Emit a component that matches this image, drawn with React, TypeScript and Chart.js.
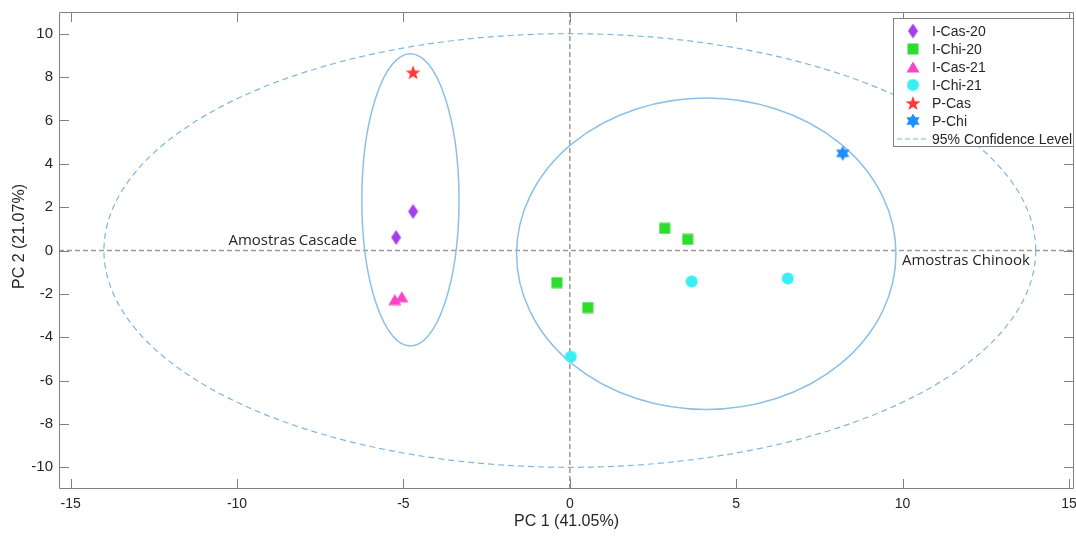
import React, { useEffect, useRef } from "react";
import { Chart, registerables } from "chart.js";

Chart.register(...registerables);

// ---- axes ----
const xTicks = [-15, -10, -5, 0, 5, 10, 15];
const yTicks = [-10, -8, -6, -4, -2, 0, 2, 4, 6, 8, 10];
const xRange = [-15.35, 15.15];
const yRange = [-11, 11];
const xTitle = "PC 1 (41.05%)";
const yTitle = "PC 2 (21.07%)";

// ---- series (PC1, PC2) ----
const iCas20 = [[-4.71, 1.8], [-5.22, 0.6]];
const iChi20 = [[2.85, 1.02], [3.54, 0.51], [-0.39, -1.48], [0.54, -2.63]];
const iCas21 = [[-5.26, -2.26], [-5.05, -2.13]];
const iChi21 = [[3.66, -1.43], [6.55, -1.29], [0.03, -4.9]];
const pCas = [[-4.71, 8.22]];
const pChi = [[8.2, 4.48]];

const seriesNames = ["I-Cas-20", "I-Chi-20", "I-Cas-21", "I-Chi-21", "P-Cas", "P-Chi"];
const seriesColors = ["#A23EEA", "#2EDC2E", "#FA46C6", "#3AEFF4", "#FF3A3A", "#1E8FFF"];
const seriesShapes = ["diamond", "square", "triangle", "circle", "star5", "hexagram"];
const seriesData = [iCas20, iChi20, iCas21, iChi21, pCas, pChi];
const confidenceLabel = "95% Confidence Level";

// ---- ellipses [cx, cy, rx, ry] ----
const groupEllipses = [
  [-4.79, 2.33, 1.46, 6.74],
  [4.1, -0.15, 5.7, 7.18],
];
const confidenceEllipse = [0, 0, 14, 10];

// ---- annotations ----
const annotationTexts = ["Amostras Cascade", "Amostras Chinook"];
const annotationX = [-6.4, 9.98];
const annotationY = [0.46, -0.46];
const annotationAlign = ["right", "left"];

const AXIS_FONT = "Liberation Sans, Arial, sans-serif";
const TEXT_COLOR = "#262626";
const FRAME_COLOR = "#808080";

function makeMarker(shape: string, color: string): HTMLCanvasElement {
  const c = document.createElement("canvas");
  let w = 14, h = 14;
  if (shape === "diamond") { w = 11; h = 16; }
  if (shape === "square") { w = 12; h = 12; }
  if (shape === "triangle") { w = 14; h = 12; }
  if (shape === "circle") { w = 13; h = 13; }
  if (shape === "star5") { w = 16; h = 16; }
  if (shape === "hexagram") { w = 16; h = 16; }
  c.width = w; c.height = h;
  const g = c.getContext("2d")!;
  g.fillStyle = color;
  g.strokeStyle = color;
  g.lineWidth = 1;
  g.beginPath();
  if (shape === "diamond") {
    g.moveTo(w / 2, 0.5); g.lineTo(w - 0.5, h / 2); g.lineTo(w / 2, h - 0.5); g.lineTo(0.5, h / 2);
  } else if (shape === "square") {
    g.rect(0.5, 0.5, w - 1, h - 1);
  } else if (shape === "triangle") {
    g.moveTo(w / 2, 0.5); g.lineTo(w - 0.5, h - 0.5); g.lineTo(0.5, h - 0.5);
  } else if (shape === "circle") {
    g.arc(w / 2, h / 2, w / 2 - 0.5, 0, Math.PI * 2);
  } else if (shape === "star5") {
    const cx = w / 2, cy = h / 2 + 0.8, R = 7.8, r = 3.2;
    for (let i = 0; i < 10; i++) {
      const a = -Math.PI / 2 + (i * Math.PI) / 5;
      const rr = i % 2 === 0 ? R : r;
      const px = cx + rr * Math.cos(a), py = cy + rr * Math.sin(a);
      if (i === 0) g.moveTo(px, py); else g.lineTo(px, py);
    }
  } else if (shape === "hexagram") {
    const cx = w / 2, cy = h / 2, R = 7.6, r = 7.6 / Math.sqrt(3);
    for (let i = 0; i < 12; i++) {
      const a = -Math.PI / 2 + (i * Math.PI) / 6;
      const rr = i % 2 === 0 ? R : r;
      const px = cx + rr * Math.cos(a), py = cy + rr * Math.sin(a);
      if (i === 0) g.moveTo(px, py); else g.lineTo(px, py);
    }
  }
  g.closePath();
  g.fill();
  return c;
}

export default function App() {
  const ref = useRef<HTMLCanvasElement | null>(null);

  useEffect(() => {
    document.body.style.margin = "0";
    const canvas = ref.current;
    if (!canvas) return;
    const markers = seriesShapes.map((s, i) => makeMarker(s, seriesColors[i]));

    const decor = {
      id: "decor",
      beforeDatasetsDraw(chart: any) {
        const { ctx, chartArea: a, scales } = chart;
        const xs = scales.x, ys = scales.y;
        ctx.save();
        ctx.beginPath();
        ctx.rect(a.left, a.top, a.right - a.left, a.bottom - a.top);
        ctx.clip();
        ctx.strokeStyle = "#9a9a9a";
        ctx.lineWidth = 1.5;
        ctx.setLineDash([5, 3]);
        const x0 = xs.getPixelForValue(0), y0 = ys.getPixelForValue(0);
        ctx.beginPath();
        ctx.moveTo(x0, a.top); ctx.lineTo(x0, a.bottom);
        ctx.moveTo(a.left, y0); ctx.lineTo(a.right, y0);
        ctx.stroke();
        const drawEllipse = (e: number[]) => {
          const cx = xs.getPixelForValue(e[0]);
          const cy = ys.getPixelForValue(e[1]);
          const rx = Math.abs(xs.getPixelForValue(e[0] + e[2]) - cx);
          const ry = Math.abs(ys.getPixelForValue(e[1] + e[3]) - cy);
          ctx.beginPath();
          ctx.ellipse(cx, cy, rx, ry, 0, 0, Math.PI * 2);
          ctx.stroke();
        };
        ctx.strokeStyle = "#7FB6E2";
        ctx.lineWidth = 1.2;
        ctx.setLineDash([6, 4]);
        drawEllipse(confidenceEllipse);
        ctx.setLineDash([]);
        ctx.strokeStyle = "#8CC0E8";
        ctx.lineWidth = 1.5;
        groupEllipses.forEach(drawEllipse);
        ctx.restore();
      },
      afterDatasetsDraw(chart: any) {
        const { ctx, scales } = chart;
        ctx.save();
        ctx.fillStyle = TEXT_COLOR;
        ctx.font = "15px 'Open Sans', sans-serif";
        ctx.textBaseline = "middle";
        annotationTexts.forEach((t, i) => {
          ctx.textAlign = annotationAlign[i] as CanvasTextAlign;
          ctx.fillText(t, scales.x.getPixelForValue(annotationX[i]), scales.y.getPixelForValue(annotationY[i]));
        });
        ctx.restore();
      },
      afterDraw(chart: any) {
        const { ctx, chartArea: a, scales } = chart;
        ctx.save();
        ctx.strokeStyle = FRAME_COLOR;
        ctx.lineWidth = 1;
        ctx.setLineDash([]);
        ctx.beginPath();
        ctx.rect(Math.round(a.left) + 0.5, Math.round(a.top) + 0.5, Math.round(a.right - a.left) - 1, Math.round(a.bottom - a.top) - 1);
        ctx.stroke();
        const TL = 10;
        ctx.beginPath();
        xTicks.forEach((v) => {
          const px = Math.round(scales.x.getPixelForValue(v)) + 0.5;
          ctx.moveTo(px, a.bottom); ctx.lineTo(px, a.bottom - TL);
          ctx.moveTo(px, a.top); ctx.lineTo(px, a.top + TL);
        });
        yTicks.forEach((v) => {
          const py = Math.round(scales.y.getPixelForValue(v)) + 0.5;
          ctx.moveTo(a.left, py); ctx.lineTo(a.left + TL, py);
          ctx.moveTo(a.right, py); ctx.lineTo(a.right - TL, py);
        });
        ctx.stroke();
        ctx.fillStyle = TEXT_COLOR;
        ctx.font = `16px ${AXIS_FONT}`;
        ctx.textAlign = "center";
        ctx.textBaseline = "middle";
        ctx.fillText(xTitle, (a.left + a.right) / 2, 522);
        ctx.save();
        ctx.translate(20, (a.top + a.bottom) / 2 - 14);
        ctx.rotate(-Math.PI / 2);
        ctx.fillText(yTitle, 0, 0);
        ctx.restore();
        // legend
        const lx = 893, ly = 18, lw = 181, lh = 129;
        ctx.fillStyle = "#ffffff";
        ctx.fillRect(lx, ly, lw, lh);
        ctx.strokeStyle = FRAME_COLOR;
        ctx.strokeRect(lx + 0.5, ly + 0.5, lw - 1, lh - 1);
        ctx.font = `14px ${AXIS_FONT}`;
        ctx.textAlign = "left";
        ctx.textBaseline = "middle";
        const rowY = (i: number) => ly + 13 + i * 18;
        seriesNames.forEach((n, i) => {
          const m = markers[i];
          ctx.drawImage(m, 913 - m.width / 2, rowY(i) - m.height / 2);
          ctx.fillStyle = TEXT_COLOR;
          ctx.fillText(n, 932, rowY(i) + 1);
        });
        const cy = rowY(6);
        ctx.strokeStyle = "#7FB6E2";
        ctx.lineWidth = 1.2;
        ctx.setLineDash([5, 3]);
        ctx.beginPath();
        ctx.moveTo(897, cy); ctx.lineTo(928, cy);
        ctx.stroke();
        ctx.setLineDash([]);
        ctx.fillStyle = TEXT_COLOR;
        ctx.fillText(confidenceLabel, 932, cy + 1);
        ctx.restore();
      },
    };

    const chart = new Chart(canvas, {
      type: "scatter",
      data: {
        datasets: seriesData.map((d, i) => ({
          label: seriesNames[i],
          data: d.map(([x, y]) => ({ x, y })),
          pointStyle: markers[i] as any,
          pointRadius: 1,
          pointHoverRadius: 1,
          pointBorderWidth: 0,
          backgroundColor: seriesColors[i],
          borderColor: seriesColors[i],
          borderWidth: 0,
          showLine: false,
          clip: false as any,
        })),
      },
      options: {
        responsive: false,
        animation: false,
        devicePixelRatio: 1,
        layout: { padding: { top: 12, right: 2, left: 0, bottom: 0 } },
        plugins: { legend: { display: false }, tooltip: { enabled: false } },
        scales: {
          x: {
            type: "linear",
            min: xRange[0],
            max: xRange[1],
            grid: { display: false, drawTicks: false },
            border: { display: false },
            ticks: { color: TEXT_COLOR, font: { family: AXIS_FONT, size: 14 }, padding: 7, maxRotation: 0 },
            afterBuildTicks: (s: any) => { s.ticks = xTicks.map((v) => ({ value: v })); },
            afterFit: (s: any) => { s.height = 47; s.paddingLeft = 0; s.paddingRight = 0; },
          },
          y: {
            type: "linear",
            min: yRange[0],
            max: yRange[1],
            grid: { display: false, drawTicks: false },
            border: { display: false },
            ticks: { color: TEXT_COLOR, font: { family: AXIS_FONT, size: 15 }, padding: 6 },
            afterBuildTicks: (s: any) => { s.ticks = yTicks.map((v) => ({ value: v })); },
            afterFit: (s: any) => { s.width = 59; s.paddingTop = 0; s.paddingBottom = 0; },
          },
        },
      },
      plugins: [decor],
    });
    return () => chart.destroy();
  }, []);

  return (
    <div style={{ width: 1076, height: 536 }}>
      <canvas ref={ref} width={1076} height={536} style={{ display: "block" }} />
    </div>
  );
}
